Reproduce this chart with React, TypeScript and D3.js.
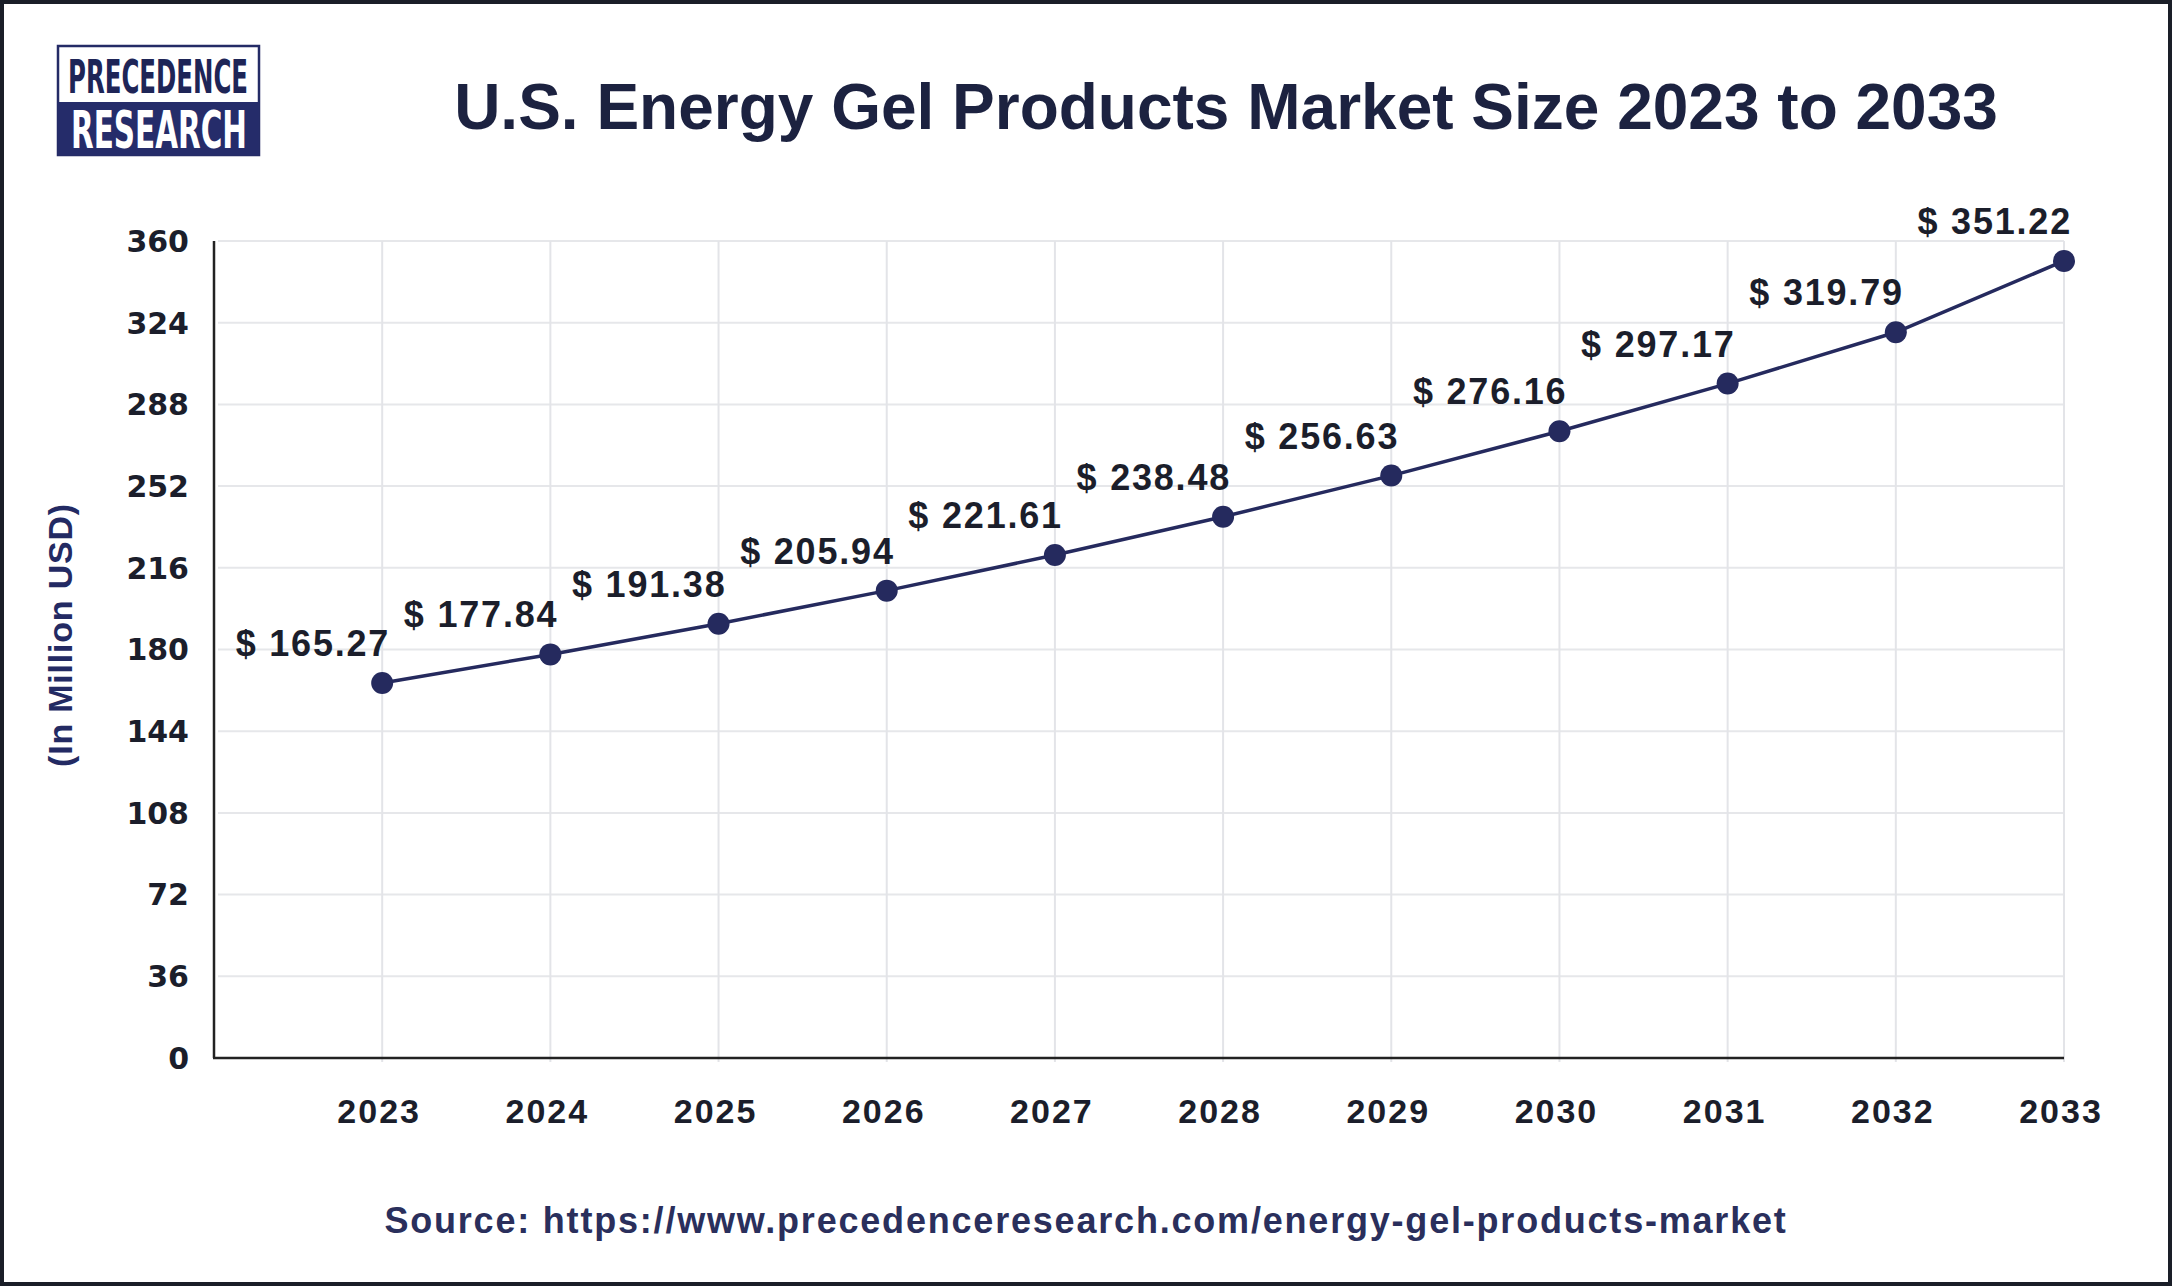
import React, { useEffect } from "react";
import * as d3 from "d3";

const years = [2023, 2024, 2025, 2026, 2027, 2028, 2029, 2030, 2031, 2032, 2033];
const values = [165.27, 177.84, 191.38, 205.94, 221.61, 238.48, 256.63, 276.16, 297.17, 319.79, 351.22];
const yTicks = [0, 36, 72, 108, 144, 180, 216, 252, 288, 324, 360];
const title = "U.S. Energy Gel Products Market Size 2023 to 2033";
const yTitle = "(In Million USD)";
const source = "Source: https://www.precedenceresearch.com/energy-gel-products-market";

const W = 2172;
const H = 1286;
const NAVY = "#252a5e";
const DARK = "#1b1e2b";

export default function App() {
  useEffect(() => {
    document.body.style.margin = "0";
    document.body.style.background = "#ffffff";
  }, []);

  const x = d3.scaleLinear().domain([2022, 2033]).range([214, 2064]);
  const y = d3.scaleLinear().domain([0, 360]).range([1058, 241]);
  const line = d3
    .line<number>()
    .x((_, i) => x(years[i]))
    .y((d) => y(d));

  const x0 = x(2022);
  const xEnd = x(2033);

  return (
    <svg width={W} height={H} style={{ display: "block" }} xmlns="http://www.w3.org/2000/svg">
      <rect x={0} y={0} width={W} height={H} fill="#ffffff" />
      <rect x={2} y={2} width={W - 4} height={H - 4} fill="none" stroke="#1a1e28" strokeWidth={4} />

      {/* Logo */}
      <g>
        <rect x={58} y={46} width={201} height={109} fill="#ffffff" stroke="#242b66" strokeWidth={2.5} />
        <rect x={58} y={102} width={201} height={53} fill="#252c6a" />
        <text
          x={68}
          y={93}
          fontFamily="'Liberation Sans Narrow', 'DejaVu Sans Condensed', sans-serif"
          fontWeight={700}
          fontSize={46}
          fill="#1e2557"
          textLength={180}
          lengthAdjust="spacingAndGlyphs"
        >
          PRECEDENCE
        </text>
        <text
          x={71}
          y={148}
          fontFamily="'Liberation Sans Narrow', 'DejaVu Sans Condensed', sans-serif"
          fontWeight={700}
          fontSize={52}
          fill="#ffffff"
          textLength={176}
          lengthAdjust="spacingAndGlyphs"
        >
          RESEARCH
        </text>
      </g>

      {/* Title */}
      <text
        x={1226}
        y={129}
        textAnchor="middle"
        fontFamily="'Liberation Sans', Arial, sans-serif"
        fontWeight={700}
        fontSize={64}
        fill="#1c2240"
      >
        {title}
      </text>

      {/* Grid lines */}
      <g>
        {yTicks.map((t) => (
          <line
            key={"h" + t}
            x1={x0 + 4}
            x2={xEnd}
            y1={y(t)}
            y2={y(t)}
            stroke="#e6e7ea"
            strokeWidth={2}
          />
        ))}
        {years.map((yr) => (
          <line
            key={"v" + yr}
            x1={x(yr)}
            x2={x(yr)}
            y1={y(360)}
            y2={y(0) + 4}
            stroke="#e3e4e8"
            strokeWidth={2}
          />
        ))}
      </g>

      {/* Axes */}
      <line x1={x0} x2={x0} y1={y(360)} y2={y(0)} stroke="#222" strokeWidth={2.5} />
      <line x1={x0 - 1} x2={xEnd} y1={y(0)} y2={y(0)} stroke="#222" strokeWidth={2.5} />

      {/* Y tick labels */}
      <g>
        {yTicks.map((t) => (
          <text
            key={"yt" + t}
            x={189}
            y={y(t)}
            dy="0.36em"
            textAnchor="end"
            fontFamily="'DejaVu Sans', sans-serif"
            fontWeight={700}
            fontSize={30}
            fill={DARK}
          >
            {t}
          </text>
        ))}
      </g>

      {/* X tick labels */}
      <g>
        {years.map((yr) => (
          <text
            key={"xt" + yr}
            x={x(yr) - 3}
            y={1123}
            textAnchor="middle"
            fontFamily="'Liberation Sans', Arial, sans-serif"
            fontWeight={700}
            fontSize={34}
            letterSpacing={2}
            fill={DARK}
          >
            {yr}
          </text>
        ))}
      </g>

      {/* Y axis title */}
      <text
        transform={`translate(72,635) rotate(-90)`}
        textAnchor="middle"
        fontFamily="'Liberation Sans', Arial, sans-serif"
        fontWeight={700}
        fontSize={34}
        letterSpacing={0.8}
        fill="#232a63"
      >
        {yTitle}
      </text>

      {/* Line */}
      <path d={line(values) || ""} fill="none" stroke={NAVY} strokeWidth={3.5} />
      {values.map((v, i) => (
        <circle key={"c" + i} cx={x(years[i])} cy={y(v)} r={11} fill={NAVY} />
      ))}

      {/* Data labels */}
      {values.map((v, i) => (
        <text
          key={"l" + i}
          x={x(years[i]) + 8}
          y={y(v) - 27}
          textAnchor="end"
          fontFamily="'Liberation Sans', Arial, sans-serif"
          fontWeight={700}
          fontSize={36}
          letterSpacing={1.8}
          fill={DARK}
        >
          {"$ " + v.toFixed(2)}
        </text>
      ))}

      {/* Source */}
      <text
        x={1086}
        y={1233}
        textAnchor="middle"
        fontFamily="'Liberation Sans', Arial, sans-serif"
        fontWeight={700}
        fontSize={36}
        letterSpacing={1.8}
        fill="#2a2f5c"
      >
        {source}
      </text>
    </svg>
  );
}
